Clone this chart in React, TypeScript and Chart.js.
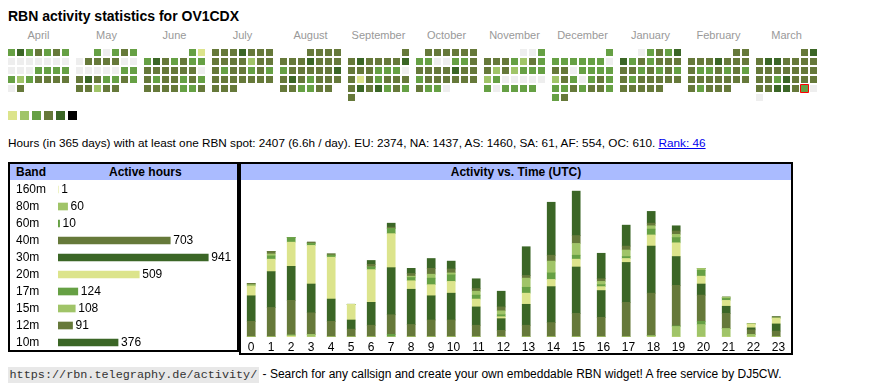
import React, { useEffect, useRef } from 'react';
import { Chart, registerables } from 'chart.js';

Chart.register(...registerables);

const FONT = '"Liberation Sans", Arial, Helvetica, sans-serif';
const MONO = '"Liberation Mono", "DejaVu Sans Mono", monospace';

const title = 'RBN activity statistics for OV1CDX';
const summaryText =
  'Hours (in 365 days) with at least one RBN spot: 2407 (6.6h / day). EU: 2374, NA: 1437, AS: 1460, SA: 61, AF: 554, OC: 610. ';
const rankText = 'Rank: 46';
const footerUrl = 'https://rbn.telegraphy.de/activity/';
const footerText = ' - Search for any callsign and create your own embeddable RBN widget! A free service by DJ5CW.';

// ---- Calendar ----
const months = ['April', 'May', 'June', 'July', 'August', 'September', 'October', 'November', 'December', 'January', 'February', 'March'];
const firstYear = 2024;
const firstMonth = 3; // April (0-based)
// activity level per day (0 = none, 1..5 = more activity), weeks separated by spaces
const aprilLevels = '3534343 0000000 0003333 3234444 04';
const mayLevels = '30343 0444400 0000033 4543343 44244';
const juneLevels = '31 3543433 4444440 4344343 4444334';
const julyLevels = '4445444 4444244 4344343 4444444 444';
const augustLevels = '4444 4445444 3444445 4543444 443344';
const septemberLevels = '4 4544445 4443330 4143444 4545343 4';
const octoberLevels = '444444 3300334 4444544 3444444 4330';
const novemberLevels = '003 4443243 4242333 2300000 303333';
const decemberLevels = '3 3333330 4403333 2430343 3343443 34';
const januaryLevels = '03435 5343444 4434343 4344444 44444';
const februaryLevels = '44 4445444 4334343 4444444 43444';
const marchLevels = '45 4554444 4444444 4435444 4455430 0';
const monthLevels = [aprilLevels, mayLevels, juneLevels, julyLevels, augustLevels, septemberLevels, octoberLevels, novemberLevels, decemberLevels, januaryLevels, februaryLevels, marchLevels];
const todayMonth = 11;
const todayDay = 29;

const levelColors = ['#eeeeee', '#dce48c', '#a0c468', '#66a044', '#66793a', '#3b6626', '#000000'];
const legendLevels = [1, 2, 3, 4, 5, 6];

// ---- Bands ----
const bands = ['160m', '80m', '60m', '40m', '30m', '20m', '17m', '15m', '12m', '10m'];
const bandHours = [1, 60, 10, 703, 941, 509, 124, 108, 91, 376];
const bandLevel = [1, 2, 3, 4, 5, 1, 3, 2, 4, 5];

// ---- Activity vs time ----
const hours = ['0', '1', '2', '3', '4', '5', '6', '7', '8', '9', '10', '11', '12', '13', '14', '15', '16', '17', '18', '19', '20', '21', '22', '23'];
const h160m = [0, 0, 1, 0, 0, 0, 0, 0, 0, 0, 0, 0, 0, 0, 0, 0, 0, 0, 0, 0, 0, 0, 0, 0];
const h80m = [0, 0, 2, 4, 0, 0, 0, 0, 0, 0, 0, 0, 0, 0, 0, 0, 0, 0, 2, 16, 19, 13, 4, 0];
const h60m = [0, 0, 0, 0, 0, 0, 0, 4, 0, 0, 0, 0, 0, 0, 0, 0, 0, 0, 0, 1, 5, 0, 0, 0];
const h40m = [24, 45, 53, 33, 24, 12, 18, 30, 19, 26, 26, 18, 10, 18, 22, 36, 30, 53, 65, 62, 40, 23, 7, 9];
const h30m = [39, 55, 52, 44, 34, 14, 35, 72, 54, 37, 41, 28, 18, 32, 55, 71, 41, 61, 72, 44, 17, 11, 3, 11];
const h20m = [15, 19, 37, 59, 64, 24, 50, 52, 13, 17, 18, 12, 3, 17, 11, 12, 6, 6, 17, 21, 12, 9, 6, 9];
const h17m = [0, 5, 7, 3, 3, 0, 4, 8, 5, 10, 10, 6, 3, 9, 10, 6, 3, 3, 9, 8, 9, 3, 0, 0];
const h15m = [2, 3, 0, 0, 0, 0, 0, 0, 2, 6, 3, 6, 6, 14, 18, 18, 5, 10, 5, 5, 3, 2, 0, 0];
const h12m = [2, 4, 0, 2, 2, 0, 4, 2, 4, 9, 6, 4, 6, 4, 9, 12, 4, 6, 4, 5, 0, 0, 0, 2];
const h10m = [0, 0, 0, 0, 0, 0, 6, 6, 8, 15, 12, 15, 24, 44, 81, 68, 39, 32, 18, 8, 0, 0, 0, 0];
const hourlyByBand = [h160m, h80m, h60m, h40m, h30m, h20m, h17m, h15m, h12m, h10m];

const HEADER_BLUE = '#aabbff';

function CalendarChart() {
  const ref = useRef<HTMLCanvasElement>(null);
  const W = 812;
  const H = 80;
  useEffect(() => {
    const CELL = 7;
    const PITCH = 9;
    const MONTH_PITCH = 68;
    const ROW_TOP = 5;
    const LEGEND_CELL = 9;
    const LEGEND_PITCH = 12;
    const LEGEND_TOP = 67;
    const days: { x: number; y: number }[] = [];
    const fills: string[] = [];
    const radii: number[] = [];
    const borders: number[] = [];
    monthLevels.forEach((weeks, m) => {
      const levels = weeks.replace(/ /g, '');
      const offset = (new Date(firstYear, firstMonth + m, 1).getDay() + 6) % 7;
      for (let d = 0; d < levels.length; d++) {
        const slot = offset + d;
        days.push({
          x: m * MONTH_PITCH + (slot % 7) * PITCH + CELL / 2,
          y: ROW_TOP + Math.floor(slot / 7) * PITCH + CELL / 2,
        });
        fills.push(levelColors[Number(levels[d])]);
        const isToday = m === todayMonth && d + 1 === todayDay;
        radii.push(isToday ? (CELL + 1) / Math.SQRT2 : CELL / Math.SQRT2);
        borders.push(isToday ? 1 : 0);
      }
    });
    const legend = legendLevels.map((_, i) => ({
      x: i * LEGEND_PITCH + LEGEND_CELL / 2,
      y: LEGEND_TOP + LEGEND_CELL / 2,
    }));
    const chart = new Chart(ref.current as HTMLCanvasElement, {
      type: 'scatter',
      data: {
        datasets: [
          {
            data: days,
            pointStyle: 'rect',
            pointRadius: radii,
            pointBackgroundColor: fills,
            pointBorderColor: '#ff0000',
            pointBorderWidth: borders,
            clip: false,
          } as any,
          {
            data: legend,
            pointStyle: 'rect',
            pointRadius: LEGEND_CELL / Math.SQRT2,
            pointBackgroundColor: legendLevels.map((l) => levelColors[l]),
            pointBorderWidth: 0,
            clip: false,
          } as any,
        ],
      },
      options: {
        responsive: false,
        animation: false,
        events: [],
        layout: { padding: 0, autoPadding: false },
        scales: {
          x: { type: 'linear', display: false, min: 0, max: W },
          y: { type: 'linear', display: false, min: 0, max: H, reverse: true },
        },
        plugins: { legend: { display: false }, tooltip: { enabled: false } },
      } as any,
    });
    return () => chart.destroy();
  }, []);
  return <canvas ref={ref} width={W} height={H} style={{ position: 'absolute', left: 8, top: 44, width: W, height: H }} />;
}

function BandChart() {
  const ref = useRef<HTMLCanvasElement>(null);
  const W = 227;
  const H = 171;
  useEffect(() => {
    const valueLabels = {
      id: 'valueLabels',
      afterDatasetsDraw(chart: any) {
        const ctx = chart.ctx;
        const meta = chart.getDatasetMeta(0);
        ctx.save();
        ctx.font = `12px ${FONT}`;
        ctx.fillStyle = '#000';
        ctx.textBaseline = 'middle';
        ctx.textAlign = 'left';
        meta.data.forEach((bar: any, i: number) => {
          ctx.fillText(String(bandHours[i]), bar.x + 3, bar.y);
        });
        ctx.restore();
      },
    };
    const chart = new Chart(ref.current as HTMLCanvasElement, {
      type: 'bar',
      data: {
        labels: bands,
        datasets: [
          {
            data: bandHours,
            backgroundColor: bandLevel.map((l) => levelColors[l]),
            barThickness: 7,
            borderWidth: 0,
          },
        ],
      },
      options: {
        indexAxis: 'y',
        responsive: false,
        animation: false,
        events: [],
        layout: { padding: { left: 6, top: 1, right: 0, bottom: 0 }, autoPadding: false },
        scales: {
          x: { display: false, min: 0, max: 1121 },
          y: {
            grid: { display: false, drawTicks: false },
            border: { display: false },
            ticks: { autoSkip: false, crossAlign: 'far', font: { family: FONT, size: 12 }, color: '#000', padding: 0 },
            afterFit: (s: any) => {
              s.width = 42;
              s.paddingTop = 0;
              s.paddingBottom = 0;
            },
          },
        },
        plugins: { legend: { display: false }, tooltip: { enabled: false } },
      } as any,
      plugins: [valueLabels],
    });
    return () => chart.destroy();
  }, []);
  return <canvas ref={ref} width={W} height={H} style={{ position: 'absolute', left: 10, top: 180, width: W, height: H }} />;
}

function HourChart() {
  const ref = useRef<HTMLCanvasElement>(null);
  const W = 550;
  const H = 173;
  useEffect(() => {
    // table-like columns: width grows with the label length
    const colWidths = hours.map((h) => 15 + 5 * h.length);
    const colStarts: number[] = [];
    colWidths.reduce((acc, w) => {
      colStarts.push(acc);
      return acc + w;
    }, 0);
    const barX = colStarts.map((s) => s + 10.2);
    const tickX = colStarts.map((s, i) => s + colWidths[i] / 2);
    const chart = new Chart(ref.current as HTMLCanvasElement, {
      type: 'bar',
      data: {
        datasets: bands.map((b, k) => ({
          label: b,
          data: hourlyByBand[k].map((v, h) => ({ x: barX[h], y: v })),
          backgroundColor: levelColors[bandLevel[k]],
          barThickness: 8,
          borderWidth: 0,
        })),
      },
      options: {
        responsive: false,
        animation: false,
        events: [],
        layout: { padding: 0, autoPadding: false },
        scales: {
          x: {
            type: 'linear',
            min: 0,
            max: W,
            offset: false,
            stacked: true,
            grid: { display: false, drawTicks: false },
            border: { display: false },
            afterBuildTicks: (s: any) => {
              s.ticks = tickX.map((v) => ({ value: v }));
            },
            afterFit: (s: any) => {
              s.height = 16;
            },
            ticks: {
              autoSkip: false,
              maxRotation: 0,
              font: { family: FONT, size: 12 },
              color: '#000',
              padding: 3,
              callback: (_v: any, i: number) => hours[i],
            },
          },
          y: { display: false, stacked: true, min: 0, max: 240 },
        },
        plugins: { legend: { display: false }, tooltip: { enabled: false } },
      } as any,
    });
    return () => chart.destroy();
  }, []);
  return <canvas ref={ref} width={W} height={H} style={{ position: 'absolute', left: 241, top: 180, width: W, height: H }} />;
}

export default function App() {
  const abs = (s: React.CSSProperties): React.CSSProperties => ({ position: 'absolute', whiteSpace: 'nowrap', ...s });
  return (
    <div style={{ position: 'absolute', left: 0, top: 0, width: 870, height: 390, fontFamily: FONT, color: '#000', background: '#fff' }}>
      <div style={abs({ left: 8, top: 8, fontWeight: 'bold', fontSize: 14, lineHeight: '16px' })}>{title}</div>
      {months.map((m, i) => (
        <div key={m} style={abs({ left: 8 + i * 68, top: 29, width: 61, textAlign: 'center', fontSize: 11, lineHeight: '13px', color: '#999' })}>
          {m}
        </div>
      ))}
      <CalendarChart />
      <div style={abs({ left: 8, top: 136, fontSize: 11.75, lineHeight: '14px' })}>
        {summaryText}
        <a href="#" style={{ color: '#0000ee', textDecoration: 'underline' }}>
          {rankText}
        </a>
      </div>

      <div style={abs({ left: 8, top: 162, width: 231, height: 190, border: '2px solid #000', boxSizing: 'border-box' })}>
        <div style={{ position: 'absolute', left: 0, top: 0, right: 0, height: 16, background: HEADER_BLUE }} />
        <div style={abs({ left: 6, top: 0, fontWeight: 'bold', fontSize: 12, lineHeight: '17px' })}>Band</div>
        <div style={abs({ left: 99, top: 0, fontWeight: 'bold', fontSize: 12, lineHeight: '17px' })}>Active hours</div>
      </div>
      <div style={abs({ left: 239, top: 162, width: 554, height: 193, border: '2px solid #000', boxSizing: 'border-box' })}>
        <div style={{ position: 'absolute', left: 0, top: 0, right: 0, height: 16, background: HEADER_BLUE }} />
        <div style={abs({ left: 0, right: 0, top: 0, textAlign: 'center', fontWeight: 'bold', fontSize: 12, lineHeight: '17px' })}>
          Activity vs. Time (UTC)
        </div>
      </div>
      <BandChart />
      <HourChart />

      <div style={abs({ left: 8, top: 366, fontSize: 12, lineHeight: '16px' })}>
        <span style={{ display: 'inline-block', fontFamily: MONO, fontSize: 11.8, color: '#333', background: '#e8e8e8', padding: '0 2px 0 1.5px', lineHeight: '16px' }}>
          {footerUrl}
        </span>
        <span>{footerText}</span>
      </div>
    </div>
  );
}
